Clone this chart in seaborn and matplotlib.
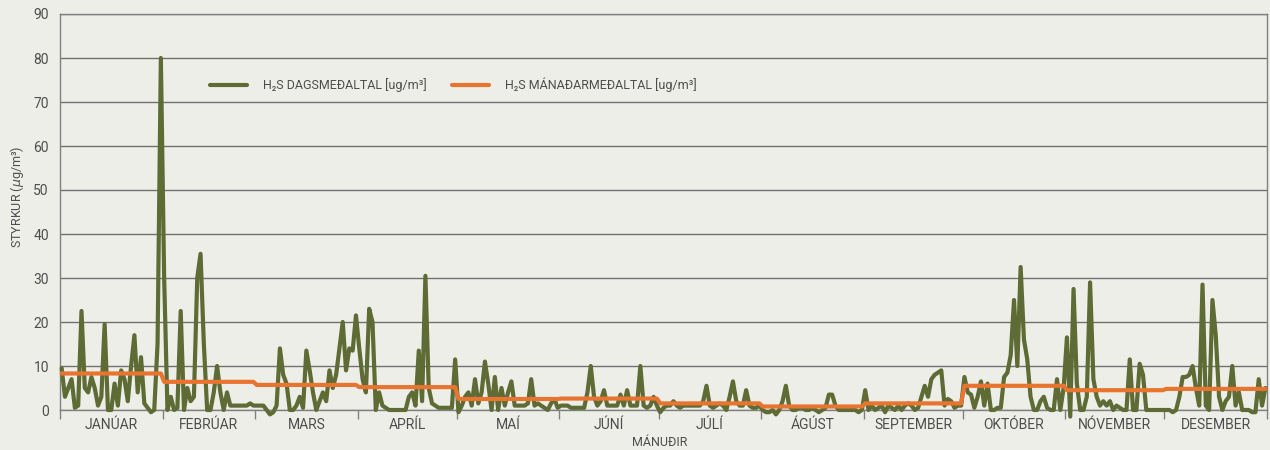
import numpy as np
import pandas as pd
import matplotlib
matplotlib.use("Agg")
import matplotlib.pyplot as plt
import seaborn as sns

# Month names and lengths (non-leap year)
months = ["JANÚAR", "FEBRÚAR", "MARS", "APRÍL", "MAÍ", "JÚNÍ", "JÚLÍ",
          "ÁGÚST", "SEPTEMBER", "OKTÓBER", "NÓVEMBER", "DESEMBER"]
days_in_month = [31, 28, 31, 30, 31, 30, 31, 31, 30, 31, 30, 31]

# Daily H2S averages (ug/m3), one list per month
jan = [9.5, 3, 5, 7, 0.5, 1, 22.5, 5, 4, 7.5, 5, 1, 3, 19.5, 0, 0, 6, 1, 9, 7,
       2, 10, 17, 4, 12, 1.5, 0.5, -0.5, 0, 15, 80]
feb = [30, 0, 3, 0, 0.5, 22.5, 0, 5, 2, 3, 30, 35.5, 15, 0, 0, 4, 10, 4, 0, 4,
       1, 1, 1, 1, 1, 1, 1.5, 1]
mar = [1, 1, 1, 0, -1, -0.5, 1, 14, 8, 6, 0, 0, 1, 3, 0.5, 13.5, 9, 4, 0, 2,
       4, 2, 9, 5, 8, 14, 20, 9, 14, 13.5, 21.5]
apr = [14, 7, 4, 23, 20, 0, 4, 1, 0.5, 0, 0, 0, 0, 0, 0, 3, 4, 1, 13.5, 2,
       30.5, 5, 1.5, 1, 0.5, 0.5, 0.5, 0.5, 0.5, 11.5]
may = [-0.5, 1, 3, 4, 1, 7, 1.5, 4, 11, 6, 0, 7.5, 0, 5, 1, 4, 6.5, 1, 1, 1,
       1, 1.5, 7, 1, 1.5, 1, 0.5, 0, 1.5, 2.5, 0.5]
jun = [1, 1, 1, 0.5, 0.5, 0.5, 0.5, 0.5, 4, 10, 3, 1, 2, 4.5, 1, 1, 1, 1, 3.5, 1,
       4.5, 1, 1, 1, 10, 1, 0.5, 1, 3, 1]
jul = [-0.5, 0.5, 1, 1, 2, 1, 0.5, 1, 1, 1, 1, 1, 1, 2, 5.5, 1, 0.5, 1, 1.5, 1,
       0, 3, 6.5, 2, 1, 1, 4.5, 1, 0.5, 0.5, 1]
aug = [0, -0.5, -0.5, 0, -1, 0, 2, 5.5, 1, 0, 0, 0.5, 0.5, 0, 0, 0.5, 0, -0.5, 0, 0.5,
       3.5, 3.5, 1, 0, 0, 0, 0, 0, 0, -0.5, 0]
sep = [4.5, 0, 1, 0, 0.5, 1, -0.5, 1, 0.5, 0, 1, 0, 1, 1.5, 1, 0, 0.5, 3, 5.5, 3,
       7, 8, 8.5, 9, 1, 2.5, 2, 0.5, 1, 1]
okt = [7.5, 4, 3.5, 0.5, 3, 6.5, 1, 6, 0, 0, 0.5, 0.5, 7.5, 8.5, 12.5, 25, 10, 32.5, 16, 11.5,
       3, 0, 0, 2, 3, 0.5, 0, 0, 7, 0, 5]
nov = [16.5, -1.5, 27.5, 6, 0, 0, 3, 29, 7, 3, 1, 2, 1, 2, 0, 1, 0.5, 0, 0, 11.5,
       0, 0, 10.5, 8, 0, 0, 0, 0, 0, 0]
des = [0, 0, -0.5, 0, 3, 7.5, 7.5, 8, 10, 5, 1, 28.5, 1, 0, 25, 17, 3, 0, 2, 3,
       10, 1, 4, 0, 0, 0, -0.5, -0.5, 7, 1, 5]

# Monthly averages (ug/m3)
monthly_mean = [8.3, 6.4, 5.7, 5.2, 2.5, 2.6, 1.5, 0.8, 1.5, 5.5, 4.5, 4.8]

label_daily = "H₂S DAGSMEÐALTAL [ug/m³]"
label_monthly = "H₂S MÁNAÐARMEÐALTAL [ug/m³]"

GREEN = "#5e6b34"
ORANGE = "#e8742f"
BG = "#eeeee9"
GRID = "#707070"
TEXT = "#4d4d4d"

daily = jan + feb + mar + apr + may + jun + jul + aug + sep + okt + nov + des
df = pd.DataFrame({
    "dagur": np.arange(len(daily)),
    "dagsmedaltal": daily,
    "manadarmedaltal": np.repeat(monthly_mean, days_in_month),
})

sns.set_style("white", rc={"axes.facecolor": BG, "figure.facecolor": BG})
plt.rcParams["font.family"] = ["Roboto", "DejaVu Sans"]

fig, ax = plt.subplots(figsize=(12.7, 4.5), dpi=100)
fig.subplots_adjust(left=60 / 1270, right=1267 / 1270, bottom=40 / 450, top=436 / 450)

sns.lineplot(data=df, x="dagur", y="dagsmedaltal", color=GREEN, linewidth=3.0,
             ax=ax, label=label_daily, clip_on=False, zorder=3,
             solid_joinstyle="round", solid_capstyle="round")
sns.lineplot(data=df, x="dagur", y="manadarmedaltal", color=ORANGE,
             linewidth=3.0, ax=ax, label=label_monthly, clip_on=False, zorder=4)

ax.set_xlim(-0.5, len(daily) - 0.5)
ax.set_ylim(0, 90)
ax.set_yticks(range(0, 91, 10))
ax.yaxis.grid(True, color=GRID, linewidth=1.0)
ax.set_axisbelow(True)

# Month boundaries as tick marks, month names centred in between
edges = np.concatenate([[0], np.cumsum(days_in_month)]) - 0.5
centers = (edges[:-1] + edges[1:]) / 2
ax.set_xticks(edges)
ax.set_xticklabels([])
ax.set_xticks(centers, minor=True)
ax.set_xticklabels(months, minor=True)
ax.tick_params(axis="x", which="major", direction="out", length=6.5, width=1.0,
               color="#808080", bottom=True)
ax.tick_params(axis="x", which="minor", length=0, pad=6, labelsize=10, labelcolor=TEXT)
ax.tick_params(axis="y", length=0, pad=8, labelsize=10, labelcolor=TEXT)

for side in ["left", "right", "top", "bottom"]:
    ax.spines[side].set_visible(True)
    ax.spines[side].set_color("#808080")
    ax.spines[side].set_linewidth(1.0)

ax.set_xlabel("")
ax.set_ylabel("")
fig.text(17 / 1270, 1 - 197 / 450, "STYRKUR ($\\mu$g/m³)", rotation=90,
         ha="center", va="center", fontsize=9, color=TEXT)
fig.text(660 / 1270, 1 - 442 / 450, "MÁNUÐIR", ha="center", va="center",
         fontsize=9, color=TEXT)

leg = ax.legend(loc="center left", bbox_to_anchor=(210 / 1270, 1 - 85 / 450),
                bbox_transform=fig.transFigure, ncol=2, frameon=False,
                borderpad=0, borderaxespad=0, handlelength=2.95,
                handletextpad=1.3, columnspacing=2.0, fontsize=9)
for t in leg.get_texts():
    t.set_color(TEXT)

fig.savefig("out.png", dpi=100, facecolor=BG)
